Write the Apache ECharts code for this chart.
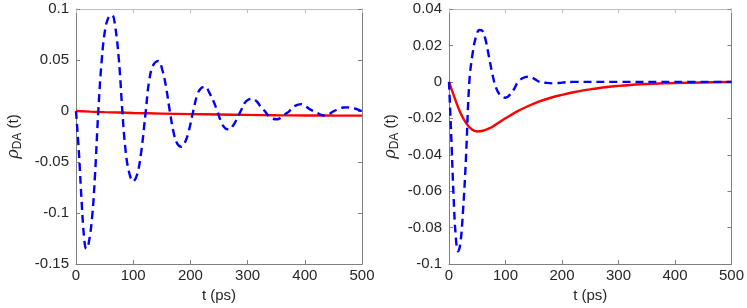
<!DOCTYPE html>
<html>
<head>
<meta charset="utf-8">
<script src="https://cdn.jsdelivr.net/npm/echarts@6/dist/echarts.min.js"></script>
<style>html,body{margin:0;padding:0;background:#fff;}#c{width:747px;height:308px;}</style>
</head>
<body>
<div id="c"></div>
<script>
// Left panel
const leftBlueT = [0,5,10,14,18,22,28,33,39,45,51,57,63,68,75,81,86,92,100,107,114,122,128,135,144,151,157,164,171,177,184,191,197,205,212,218,226,233,240,247,254,261,268,275,281,288,295,301,308,315,322,330,337,344,352,359,366,373,380,387,394,401,408,415,422,428,435,442,448,455,462,468,475,482,490,497,500];
const leftBlueV = [0,-0.04,-0.09,-0.123,-0.135,-0.13,-0.105,-0.065,0,0.05,0.08,0.092,0.094,0.085,0.05,0,-0.035,-0.058,-0.069,-0.062,-0.04,0,0.03,0.045,0.049,0.04,0.025,0,-0.022,-0.032,-0.035,-0.03,-0.02,0,0.016,0.022,0.024,0.018,0.01,0,-0.011,-0.017,-0.018,-0.014,-0.008,0,0.008,0.011,0.012,0.01,0.005,0,-0.005,-0.0075,-0.008,-0.006,-0.003,0,0.004,0.006,0.0068,0.005,0.002,0,-0.002,-0.0038,-0.0045,-0.003,-0.001,0.001,0.0028,0.0035,0.0036,0.003,0.002,0.0005,0];
const leftRedT = [0,25,50,75,100,150,200,250,300,350,400,450,500];
const leftRedV = [0,-0.0006,-0.0011,-0.0015,-0.0019,-0.0025,-0.003,-0.0034,-0.0038,-0.0041,-0.0043,-0.0044,-0.0045];
// Right panel
const rightBlueT = [0,4,8,12,16,20,25,30,36,42,48,54,59,64,70,77,83,90,100,108,115,122,130,139,145,152,160,171,185,200,220,300,400,500];
const rightBlueV = [0,-0.03,-0.062,-0.085,-0.093,-0.089,-0.07,-0.042,0,0.016,0.025,0.0285,0.028,0.024,0.015,0.004,-0.003,-0.007,-0.0087,-0.007,-0.004,0,0.002,0.0028,0.0026,0.0015,0,-0.0005,-0.0008,-0.0004,0,0,0,0];
const rightRedT = [0,10,20,30,40,50,60,70,80,90,100,120,140,160,180,200,220,240,260,280,300,320,340,360,380,400,450,500];
const rightRedV = [0,-0.0088,-0.0168,-0.0225,-0.026,-0.0272,-0.0268,-0.0257,-0.024,-0.022,-0.02,-0.0163,-0.0133,-0.0107,-0.0087,-0.0071,-0.0057,-0.0045,-0.0036,-0.0028,-0.0022,-0.0017,-0.0013,-0.001,-0.0008,-0.0006,-0.0003,-0.0001];
const xTicks = [0,100,200,300,400,500];

const zip = (a,b) => a.map((t,i)=>[t,b[i]]);
const font = '"Liberation Sans", Arial, Helvetica, sans-serif';
const txtColor = '#262626';
const axisGray = '#808080';

function xAxes(gi){
  return [
    {type:'value', gridIndex:gi, min:0, max:500, interval:100, position:'bottom',
     name:'t (ps)', nameLocation:'middle', nameGap:18,
     nameTextStyle:{fontFamily:font, fontSize:15, color:txtColor},
     axisLine:{onZero:false, lineStyle:{color:axisGray, width:1}},
     axisTick:{inside:true, length:4, lineStyle:{color:axisGray}},
     axisLabel:{fontFamily:font, fontSize:15, color:txtColor, margin:4},
     splitLine:{show:false}},
    {type:'value', gridIndex:gi, min:0, max:500, interval:100, position:'top',
     axisLine:{onZero:false, lineStyle:{color:'#bdbdbd', width:1}},
     axisTick:{inside:true, length:4, lineStyle:{color:'#bdbdbd'}},
     axisLabel:{show:false}, splitLine:{show:false}}
  ];
}
function yAxes(gi,min,max,interval,fmt){
  const name = '{i|ρ}{s|DA} (t)';
  return [
    {type:'value', gridIndex:gi, min:min, max:max, interval:interval, position:'left',
     name:name, nameLocation:'middle', nameGap:gi===0?52:48, nameRotate:90,
     nameTextStyle:{fontFamily:font, fontSize:15, color:txtColor,
       rich:{i:{fontStyle:'italic', fontFamily:'"DejaVu Serif", serif', fontSize:16, color:txtColor},
             s:{fontFamily:font, fontSize:12, color:txtColor, padding:[8,0,0,0]}}},
     axisLine:{onZero:false, lineStyle:{color:axisGray, width:1}},
     axisTick:{inside:true, length:4, lineStyle:{color:axisGray}},
     axisLabel:{fontFamily:font, fontSize:15, color:txtColor, margin:7, formatter:fmt},
     splitLine:{show:false}},
    {type:'value', gridIndex:gi, min:min, max:max, interval:interval, position:'right',
     axisLine:{onZero:false, lineStyle:{color:axisGray, width:1}},
     axisTick:{inside:true, length:4, lineStyle:{color:axisGray}},
     axisLabel:{show:false}, splitLine:{show:false}}
  ];
}
function fmtFixed(v){
  if (Math.abs(v) < 1e-9) return '0';
  return (+v.toFixed(4)).toString();
}

const chart = echarts.init(document.getElementById('c'), null, {renderer:'canvas'});
chart.setOption({
  animation:false,
  backgroundColor:'#fff',
  grid:[
    {left:76, top:9, width:286, height:258},
    {left:449, top:9, width:285, height:257}
  ],
  xAxis:[...xAxes(0), ...xAxes(1)],
  yAxis:[...yAxes(0,-0.15,0.1,0.05,fmtFixed), ...yAxes(1,-0.1,0.04,0.02,fmtFixed)],
  series:[
    {type:'line', xAxisIndex:0, yAxisIndex:0, data:zip(leftRedT,leftRedV), smooth:true, showSymbol:false,
     lineStyle:{color:'#ff0000', width:2.4}, z:2},
    {type:'line', xAxisIndex:0, yAxisIndex:0, data:zip(leftBlueT,leftBlueV), smooth:0.4, showSymbol:false,
     lineStyle:{color:'#0000ff', width:2.4, type:[8,5]}, z:3},
    {type:'line', xAxisIndex:2, yAxisIndex:2, data:zip(rightRedT,rightRedV), smooth:0.4, showSymbol:false,
     lineStyle:{color:'#ff0000', width:2.4}, z:2},
    {type:'line', xAxisIndex:2, yAxisIndex:2, data:zip(rightBlueT,rightBlueV), smooth:0.4, showSymbol:false,
     lineStyle:{color:'#0000ff', width:2.4, type:[8,5]}, z:3}
  ]
});
</script>
</body>
</html>
